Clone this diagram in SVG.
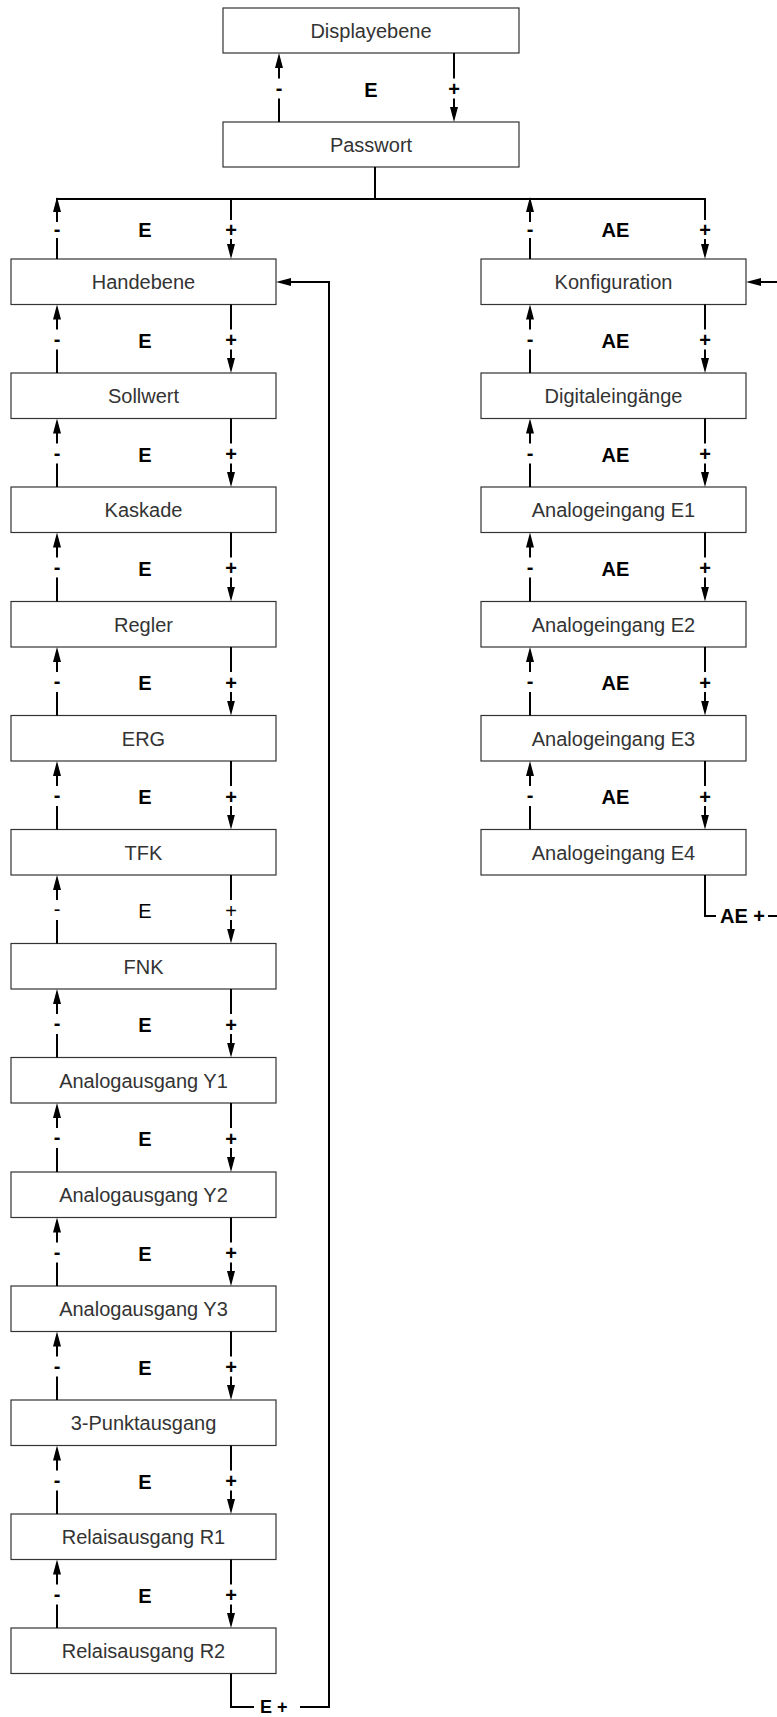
<svg xmlns="http://www.w3.org/2000/svg" width="777" height="1717" viewBox="0 0 777 1717">
<style>
.box{fill:#fff;stroke:#333;stroke-width:1.2}
.nt{font-family:"Liberation Sans",Arial,sans-serif;font-size:20px;fill:#333;text-anchor:middle}
.c{stroke:#000;stroke-width:2;fill:none}
.a{marker-end:url(#ah)}
.lb{font-family:"Liberation Sans",Arial,sans-serif;font-size:20px;font-weight:bold;fill:#000;text-anchor:middle}
.nw{font-weight:normal}
</style>
<defs>
<marker id="ah" viewBox="0 0 15 8" refX="11" refY="4" markerWidth="15" markerHeight="8" markerUnits="userSpaceOnUse" orient="auto">
<path d="M0,0 L15,4 L0,8 z" fill="#000"/>
</marker>
</defs>
<rect width="777" height="1717" fill="#fff"/>

<g id="nodes">
<g id="n-displayebene"><rect class="box" x="223" y="8" width="296" height="45"/><text class="nt" x="371" y="38">Displayebene</text></g>
<g id="n-passwort"><rect class="box" x="223" y="122" width="296" height="45"/><text class="nt" x="371" y="151.5">Passwort</text></g>

<g id="n-handebene"><rect class="box" x="11" y="259" width="265" height="45.5"/><text class="nt" x="143.5" y="289">Handebene</text></g>
<g id="n-sollwert"><rect class="box" x="11" y="373" width="265" height="45.5"/><text class="nt" x="143.5" y="403">Sollwert</text></g>
<g id="n-kaskade"><rect class="box" x="11" y="487" width="265" height="45.5"/><text class="nt" x="143.5" y="517">Kaskade</text></g>
<g id="n-regler"><rect class="box" x="11" y="601.5" width="265" height="45.5"/><text class="nt" x="143.5" y="631.5">Regler</text></g>
<g id="n-erg"><rect class="box" x="11" y="715.5" width="265" height="45.5"/><text class="nt" x="143.5" y="745.5">ERG</text></g>
<g id="n-tfk"><rect class="box" x="11" y="829.5" width="265" height="45.5"/><text class="nt" x="143.5" y="859.5">TFK</text></g>
<g id="n-fnk"><rect class="box" x="11" y="943.5" width="265" height="45.5"/><text class="nt" x="143.5" y="973.5">FNK</text></g>
<g id="n-y1"><rect class="box" x="11" y="1057.5" width="265" height="45.5"/><text class="nt" x="143.5" y="1087.5">Analogausgang Y1</text></g>
<g id="n-y2"><rect class="box" x="11" y="1172" width="265" height="45.5"/><text class="nt" x="143.5" y="1202">Analogausgang Y2</text></g>
<g id="n-y3"><rect class="box" x="11" y="1286" width="265" height="45.5"/><text class="nt" x="143.5" y="1316">Analogausgang Y3</text></g>
<g id="n-3punkt"><rect class="box" x="11" y="1400" width="265" height="45.5"/><text class="nt" x="143.5" y="1430">3-Punktausgang</text></g>
<g id="n-r1"><rect class="box" x="11" y="1514" width="265" height="45.5"/><text class="nt" x="143.5" y="1544">Relaisausgang R1</text></g>
<g id="n-r2"><rect class="box" x="11" y="1628" width="265" height="45.5"/><text class="nt" x="143.5" y="1658">Relaisausgang R2</text></g>

<g id="n-konfiguration"><rect class="box" x="481" y="259" width="265" height="45.5"/><text class="nt" x="613.5" y="289">Konfiguration</text></g>
<g id="n-digital"><rect class="box" x="481" y="373" width="265" height="45.5"/><text class="nt" x="613.5" y="403">Digitaleingänge</text></g>
<g id="n-e1"><rect class="box" x="481" y="487" width="265" height="45.5"/><text class="nt" x="613.5" y="517">Analogeingang E1</text></g>
<g id="n-e2"><rect class="box" x="481" y="601.5" width="265" height="45.5"/><text class="nt" x="613.5" y="631.5">Analogeingang E2</text></g>
<g id="n-e3"><rect class="box" x="481" y="715.5" width="265" height="45.5"/><text class="nt" x="613.5" y="745.5">Analogeingang E3</text></g>
<g id="n-e4"><rect class="box" x="481" y="829.5" width="265" height="45.5"/><text class="nt" x="613.5" y="859.5">Analogeingang E4</text></g>
</g>

<g id="connectors">
<!-- Displayebene / Passwort -->
<g transform="translate(0,53)">
<path class="c" d="M279,69 V45.5"/><path class="c a" d="M279,25.5 V4"/>
<path class="c" d="M454,0 V25.5"/><path class="c a" d="M454,45.5 V65"/>
<text class="lb" x="279" y="41.5">-</text><text class="lb" x="371" y="43.5">E</text><text class="lb" x="454" y="43">+</text>
</g>
<path class="c" d="M375,167 V199 M56,199 H706"/>
<!-- top of left column -->
<g transform="translate(0,199)">
<path class="c" d="M57,60 V39"/><path class="c a" d="M57,23 V2"/>
<path class="c" d="M231,0 V21"/><path class="c a" d="M231,40 V56"/>
<text class="lb" x="57" y="37">-</text><text class="lb" x="145" y="38">E</text><text class="lb" x="231" y="38">+</text>
</g>
<!-- top of right column -->
<g transform="translate(0,199)">
<path class="c" d="M530,60 V39"/><path class="c a" d="M530,23 V2"/>
<path class="c" d="M705,0 V21"/><path class="c a" d="M705,40 V56"/>
<text class="lb" x="530" y="37">-</text><text class="lb" x="615.5" y="38">AE</text><text class="lb" x="705" y="38">+</text>
</g>

<!-- left column gaps -->
<g transform="translate(0,304.5)"><path class="c" d="M57,68.5 V45"/><path class="c a" d="M57,25 V4"/><path class="c" d="M231,0 V25"/><path class="c a" d="M231,45 V64.5"/><text class="lb" x="57" y="41">-</text><text class="lb" x="145" y="43">E</text><text class="lb" x="231" y="42.5">+</text></g>
<g transform="translate(0,418.5)"><path class="c" d="M57,68.5 V45"/><path class="c a" d="M57,25 V4"/><path class="c" d="M231,0 V25"/><path class="c a" d="M231,45 V64.5"/><text class="lb" x="57" y="41">-</text><text class="lb" x="145" y="43">E</text><text class="lb" x="231" y="42.5">+</text></g>
<g transform="translate(0,532.5)"><path class="c" d="M57,69 V45"/><path class="c a" d="M57,25 V4"/><path class="c" d="M231,0 V25"/><path class="c a" d="M231,45 V65"/><text class="lb" x="57" y="41">-</text><text class="lb" x="145" y="43">E</text><text class="lb" x="231" y="42.5">+</text></g>
<g transform="translate(0,647)"><path class="c" d="M57,68.5 V45"/><path class="c a" d="M57,25 V4"/><path class="c" d="M231,0 V25"/><path class="c a" d="M231,45 V64.5"/><text class="lb" x="57" y="41">-</text><text class="lb" x="145" y="43">E</text><text class="lb" x="231" y="42.5">+</text></g>
<g transform="translate(0,761)"><path class="c" d="M57,68.5 V45"/><path class="c a" d="M57,25 V4"/><path class="c" d="M231,0 V25"/><path class="c a" d="M231,45 V64.5"/><text class="lb" x="57" y="41">-</text><text class="lb" x="145" y="43">E</text><text class="lb" x="231" y="42.5">+</text></g>
<g transform="translate(0,875)"><path class="c" d="M57,68.5 V45"/><path class="c a" d="M57,25 V4"/><path class="c" d="M231,0 V25"/><path class="c a" d="M231,45 V64.5"/><text class="lb nw" x="57" y="41">-</text><text class="lb nw" x="145" y="43">E</text><text class="lb nw" x="231" y="42.5">+</text></g>
<g transform="translate(0,989)"><path class="c" d="M57,68.5 V45"/><path class="c a" d="M57,25 V4"/><path class="c" d="M231,0 V25"/><path class="c a" d="M231,45 V64.5"/><text class="lb" x="57" y="41">-</text><text class="lb" x="145" y="43">E</text><text class="lb" x="231" y="42.5">+</text></g>
<g transform="translate(0,1103)"><path class="c" d="M57,69 V45"/><path class="c a" d="M57,25 V4"/><path class="c" d="M231,0 V25"/><path class="c a" d="M231,45 V65"/><text class="lb" x="57" y="41">-</text><text class="lb" x="145" y="43">E</text><text class="lb" x="231" y="42.5">+</text></g>
<g transform="translate(0,1217.5)"><path class="c" d="M57,68.5 V45"/><path class="c a" d="M57,25 V4"/><path class="c" d="M231,0 V25"/><path class="c a" d="M231,45 V64.5"/><text class="lb" x="57" y="41">-</text><text class="lb" x="145" y="43">E</text><text class="lb" x="231" y="42.5">+</text></g>
<g transform="translate(0,1331.5)"><path class="c" d="M57,68.5 V45"/><path class="c a" d="M57,25 V4"/><path class="c" d="M231,0 V25"/><path class="c a" d="M231,45 V64.5"/><text class="lb" x="57" y="41">-</text><text class="lb" x="145" y="43">E</text><text class="lb" x="231" y="42.5">+</text></g>
<g transform="translate(0,1445.5)"><path class="c" d="M57,68.5 V45"/><path class="c a" d="M57,25 V4"/><path class="c" d="M231,0 V25"/><path class="c a" d="M231,45 V64.5"/><text class="lb" x="57" y="41">-</text><text class="lb" x="145" y="43">E</text><text class="lb" x="231" y="42.5">+</text></g>
<g transform="translate(0,1559.5)"><path class="c" d="M57,68.5 V45"/><path class="c a" d="M57,25 V4"/><path class="c" d="M231,0 V25"/><path class="c a" d="M231,45 V64.5"/><text class="lb" x="57" y="41">-</text><text class="lb" x="145" y="43">E</text><text class="lb" x="231" y="42.5">+</text></g>

<!-- right column gaps -->
<g transform="translate(0,304.5)"><path class="c" d="M530,68.5 V45"/><path class="c a" d="M530,25 V4"/><path class="c" d="M705,0 V25"/><path class="c a" d="M705,45 V64.5"/><text class="lb" x="530" y="41">-</text><text class="lb" x="615.5" y="43">AE</text><text class="lb" x="705" y="42.5">+</text></g>
<g transform="translate(0,418.5)"><path class="c" d="M530,68.5 V45"/><path class="c a" d="M530,25 V4"/><path class="c" d="M705,0 V25"/><path class="c a" d="M705,45 V64.5"/><text class="lb" x="530" y="41">-</text><text class="lb" x="615.5" y="43">AE</text><text class="lb" x="705" y="42.5">+</text></g>
<g transform="translate(0,532.5)"><path class="c" d="M530,69 V45"/><path class="c a" d="M530,25 V4"/><path class="c" d="M705,0 V25"/><path class="c a" d="M705,45 V65"/><text class="lb" x="530" y="41">-</text><text class="lb" x="615.5" y="43">AE</text><text class="lb" x="705" y="42.5">+</text></g>
<g transform="translate(0,647)"><path class="c" d="M530,68.5 V45"/><path class="c a" d="M530,25 V4"/><path class="c" d="M705,0 V25"/><path class="c a" d="M705,45 V64.5"/><text class="lb" x="530" y="41">-</text><text class="lb" x="615.5" y="43">AE</text><text class="lb" x="705" y="42.5">+</text></g>
<g transform="translate(0,761)"><path class="c" d="M530,68.5 V45"/><path class="c a" d="M530,25 V4"/><path class="c" d="M705,0 V25"/><path class="c a" d="M705,45 V64.5"/><text class="lb" x="530" y="41">-</text><text class="lb" x="615.5" y="43">AE</text><text class="lb" x="705" y="42.5">+</text></g>

<!-- loop back left -->
<path class="c" d="M231,1673.5 V1707 H254"/>
<path class="c a" d="M300,1707 H329 V282 H280"/>
<text class="lb" x="260" y="1713" style="text-anchor:start;font-size:18px">E +</text>
<!-- loop back right -->
<path class="c" d="M705,875 V916 H716"/>
<text class="lb" x="720" y="923" style="text-anchor:start">AE +</text>
<path class="c" d="M768,916 H778"/>
<path class="c a" d="M778,282 H750"/>
</g>
</svg>
